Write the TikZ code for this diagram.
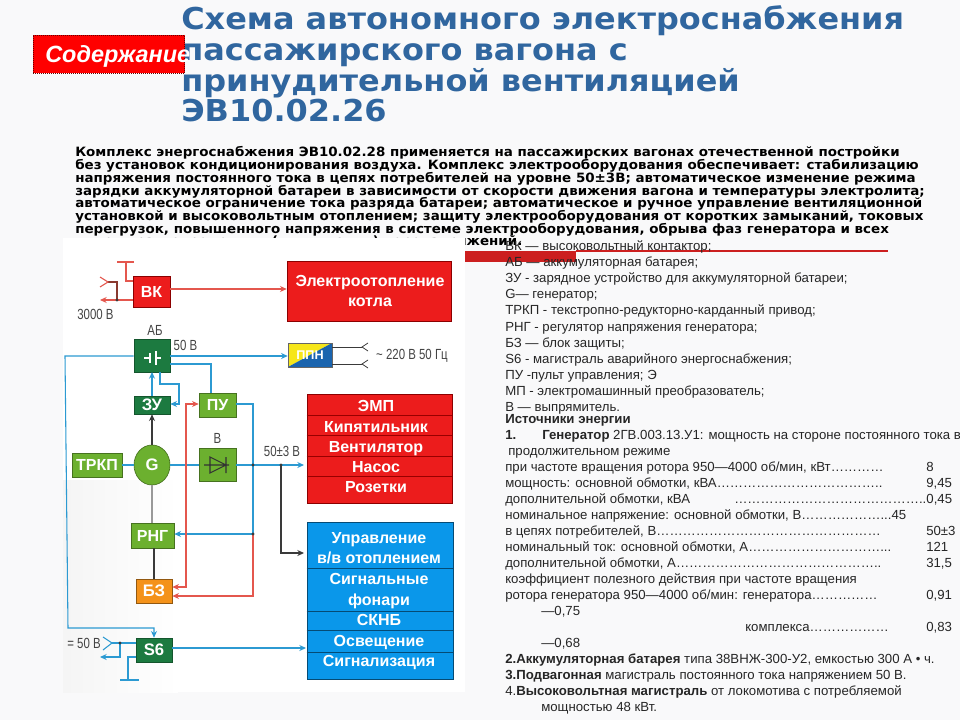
\documentclass[tikz,border=0pt]{standalone}
\usepackage{fontspec}
\usepackage{graphicx}
\setmainfont{Liberation Sans}
\newfontfamily\verdt[FakeStretch=1.06]{DejaVu Sans Bold}
\newfontfamily\verdp[FakeStretch=1.05]{DejaVu Sans Bold}
\usetikzlibrary{arrows.meta,calc,shapes.geometric}
\definecolor{pagebg}{HTML}{F9F9FA}
\definecolor{titleblue}{HTML}{30669F}
\definecolor{boxred}{HTML}{EC1C1C}
\definecolor{redline}{HTML}{CC1F1F}
\definecolor{dkgreen}{HTML}{1C7A40}
\definecolor{ltgreen}{HTML}{6CB02F}
\definecolor{boxorange}{HTML}{F4921A}
\definecolor{boxblue}{HTML}{0A97EA}
\definecolor{wireblue}{HTML}{2C9AD2}
\definecolor{wirered}{HTML}{E4574E}
\definecolor{wiredark}{HTML}{3A3A3A}
\definecolor{wirebrown}{HTML}{8A3A30}
\definecolor{ppnblue}{HTML}{1A64AE}
\definecolor{ppnyellow}{HTML}{F6E61A}
\definecolor{labgray}{HTML}{444444}
\newcommand\pxbox[7]{%
  \pgfmathsetlengthmacro\bxw{(#4-#2)*0.75pt}%
  \pgfmathsetlengthmacro\bxh{(#5-#3)*0.75pt}%
  \pgfmathsetmacro\bxx{(#2+#4)/2}%
  \pgfmathsetmacro\bxy{(#3+#5)/2}%
  \node[#6,minimum width=\bxw,minimum height=\bxh,inner sep=0pt] (#1) at (\bxx,\bxy) {#7};}
\tikzset{
  titleline/.style={anchor=base west,inner sep=0pt,text=titleblue,font=\verdt\fontsize{22.6pt}{24pt}\selectfont},
  parline/.style={anchor=base west,inner sep=0pt,text=black,font=\verdp\fontsize{9.6pt}{10pt}\selectfont},
  legline/.style={anchor=base west,inner sep=0pt,text=black!85,font=\fontsize{9.9pt}{11pt}\selectfont},
  blockred/.style={fill=boxred,draw=red!55!black,line width=.5pt,text=white,font=\bfseries\fontsize{12pt}{14pt}\selectfont},
  blockgreen/.style={fill=dkgreen,draw=dkgreen!70!black,line width=.5pt,text=white,font=\bfseries\fontsize{12.5pt}{14pt}\selectfont},
  blocklime/.style={fill=ltgreen,draw=ltgreen!65!black,line width=.5pt,text=white,font=\bfseries\fontsize{12pt}{14pt}\selectfont},
  blockorange/.style={fill=boxorange,draw=boxorange!60!black,line width=.5pt,text=white,font=\bfseries\fontsize{12.5pt}{14pt}\selectfont},
  blockblue/.style={fill=boxblue,draw=boxblue!50!black,line width=.5pt},
  blocktext/.style={text=white,inner sep=0pt,text height=8.6pt,text depth=0pt,font=\bfseries\fontsize{12pt}{14pt}\selectfont},
  sepline/.style={line width=.4pt},
  wblue/.style={draw=wireblue,line width=.8pt},
  wred/.style={draw=wirered,line width=.8pt},
  wdark/.style={draw=wiredark,line width=.8pt},
  wgray/.style={draw=black!40,line width=.8pt},
  tipb/.style={-{Stealth[length=5pt,width=4.5pt]}},
  tipbb/.style={{Stealth[length=5pt,width=4.5pt]}-{Stealth[length=5pt,width=4.5pt]}},
  dot/.style={circle,fill=wiredark,inner sep=0pt,minimum size=2.6pt},
  lab/.style={inner sep=0pt,text=labgray,font=\fontsize{11pt}{12pt}\selectfont},
}
\begin{document}
\begin{tikzpicture}[x=0.75pt,y=-0.75pt]
\useasboundingbox (0,0) rectangle (960,720);
\fill[pagebg] (0,0) rectangle (960,720);
% title
\node[titleline] (t1) at (181,30) {Схема автономного электроснабжения};
\node[titleline] (t2) at (181,61) {пассажирского вагона с};
\node[titleline] (t3) at (181,91.5) {принудительной вентиляцией};
\node[titleline] (t4) at (181,122) {ЭВ10.02.26};
% contents button
\node[fill=red,draw=red!40!black,densely dotted,line width=.5pt,minimum width=113.5pt,minimum height=28.5pt,inner sep=0pt] (cont) at (109,54) {};
\node[inner sep=0pt,text=white,anchor=west,font=\bfseries\itshape\fontsize{17.6pt}{19pt}\selectfont] (contt) at (45,56) {Содержание};
% paragraph
\node[parline] (p1) at (75,157) {Комплекс энергоснабжения ЭВ10.02.28 применяется на пассажирских вагонах отечественной постройки};
\node[parline] (p2) at (75,170) {без установок кондиционирования воздуха. Комплекс электрооборудования обеспечивает: стабилизацию};
\node[parline] (p3) at (75,182.5) {напряжения постоянного тока в цепях потребителей на уровне 50±3В; автоматическое изменение режима};
\node[parline] (p4) at (75,195.5) {зарядки аккумуляторной батареи в зависимости от скорости движения вагона и температуры электролита;};
\node[parline] (p5) at (75,208) {автоматическое ограничение тока разряда батареи; автоматическое и ручное управление вентиляционной};
\node[parline] (p6) at (75,221) {установкой и высоковольтным отоплением; защиту электрооборудования от коротких замыканий, токовых};
\node[parline] (p7) at (75,234) {перегрузок, повышенного напряжения в системе электрооборудования, обрыва фаз генератора и всех};
\node[parline] (p8) at (75,246) {видов кратковременных (импульсных) перенапряжений.};
% red rule
\fill[redline] (465,251) rectangle (576,262);
\draw[redline,line width=.9pt] (576,251) -- (888,251);
% picture ground
\fill[white] (63,238) rectangle (465,692);
\shade[left color=black!4,right color=white] (63,480) rectangle (178,692);
% blocks
\pxbox{vk}{133}{276}{170}{307}{blockred}{ВК}
\pxbox{el}{287}{261}{451}{321}{blockred}{}
\node[blocktext] (el1) at (370,281) {Электроотопление};
\node[blocktext] (el2) at (370,301) {котла};
\pxbox{ab}{134}{339}{170}{372}{blockgreen}{}
\pxbox{ppn}{288}{343}{332}{367}{draw=black!60,line width=.4pt,text=white,font=\bfseries\fontsize{9.5pt}{11pt}\selectfont,path picture={
  \fill[ppnyellow] (path picture bounding box.north west) -- (path picture bounding box.north east) -- (path picture bounding box.south west) -- cycle;
  \fill[ppnblue] (path picture bounding box.south east) -- (path picture bounding box.north east) -- (path picture bounding box.south west) -- cycle;}}{ППН}
\pxbox{zu}{134}{396}{170}{414}{blockgreen}{ЗУ}
\pxbox{pu}{199}{393}{236}{417}{blocklime}{ПУ}
\pxbox{emp}{307}{394}{452}{503}{blockred}{}
\foreach \yy in {415,435,456,476} \draw[sepline,draw=red!60!black] (emp.west |- 0,\yy) -- (emp.east |- 0,\yy);
\node[blocktext] (em1) at (376,406) {ЭМП};
\node[blocktext] (em2) at (376,427) {Кипятильник};
\node[blocktext] (em3) at (376,447) {Вентилятор};
\node[blocktext] (em4) at (376,467) {Насос};
\node[blocktext] (em5) at (376,487) {Розетки};
\pxbox{bv}{199}{448}{236}{481}{blocklime}{}
\pxbox{trkp}{72}{453}{122}{477}{blocklime}{ТРКП}
\pxbox{gen}{134}{445}{170}{485}{ellipse,fill=ltgreen,draw=ltgreen!65!black,line width=.5pt,text=white,font=\bfseries\fontsize{12.5pt}{14pt}\selectfont}{G}
\pxbox{rng}{131}{523}{174}{548}{blocklime}{РНГ}
\pxbox{bz}{136}{579}{172}{603}{blockorange}{БЗ}
\pxbox{s6}{136}{638}{172}{662}{blockgreen}{S6}
\pxbox{cons}{307}{522}{453}{679}{blockblue}{}
\foreach \yy in {568,611,630,652} \draw[sepline,draw=boxblue!50!black] (cons.west |- 0,\yy) -- (cons.east |- 0,\yy);
\node[blocktext] (c1) at (379,538) {Управление};
\node[blocktext] (c2) at (379,558) {в/в отоплением};
\node[blocktext] (c3) at (379,579) {Сигнальные};
\node[blocktext] (c4) at (379,600) {фонари};
\node[blocktext] (c5) at (379,620) {СКНБ};
\node[blocktext] (c6) at (379,641) {Освещение};
\node[blocktext] (c7) at (379,661) {Сигнализация};
% free wire points
\coordinate (vkT) at (126,262);
\coordinate (vkTl) at (117,262);
\coordinate (vkTr) at (134,262);
\coordinate (vkB) at (126,281);
\coordinate (vkIn) at (117,300);
\coordinate (vkOut) at (100,300);
\coordinate (vkFork) at (108,282);
\coordinate (abL) at (65,356);
\coordinate (s6L) at (68,628);
\coordinate (s6Lr) at (154,628);
\coordinate (abPu) at (211,364);
\coordinate (abLoopA) at (160,384);
\coordinate (abLoopB) at (179,384);
\coordinate (abLoopC) at (179,404);
\coordinate (j1) at (253,465);
\coordinate (j2) at (253,534);
\coordinate (puR) at (253,404);
\coordinate (redD) at (253,596);
\coordinate (red1) at (186,404);
\coordinate (red2) at (186,587);
\coordinate (j3) at (281,465);
\coordinate (dk) at (281,553);
\coordinate (s6dot) at (120,643);
\coordinate (s6dn) at (120,657);
\coordinate (s6out) at (100,657);
\coordinate (s6gnd) at (128,657);
\coordinate (s6gnd2) at (128,680);
\coordinate (s6gL) at (120,680);
\coordinate (s6gR) at (139,680);
\coordinate (fk1) at (112,643);
\coordinate (ppnA) at (362,347);
\coordinate (ppnB) at (362,364);
% wires: high voltage
\draw[wred,tipb] (vk.east |- 0,289) -- (el.west |- 0,289);
\draw[wred] (vkTl) -- (vkTr);
\draw[wred] (vkT) -- (vkB) -- (vk.west |- vkB);
\draw[wred,tipb] (vk.west |- vkIn) -- (vkOut);
\draw[draw=wirebrown,line width=.8pt] (vkIn) -- (117,282) -- (vkFork);
\draw[wred] (100,277) -- (vkFork) -- (100,287);
\node[dot] (d0) at (vkIn) {};
% wires: blue
\draw[wblue,tipb] (ab.west |- abL) -- (abL) -- (s6L) -- (s6Lr) -- (s6.north -| s6Lr);
\draw[wblue,tipb] (ab.east |- abL) -- (ppn.west |- abL);
\draw[wblue] (ab.east |- abPu) -- (abPu) -- (pu.north -| abPu);
\draw[wblue,tipb] (152,396) -- (152,372);
\draw[wblue,tipb] (ab.south -| abLoopA) -- (abLoopA) -- (abLoopB) -- (abLoopC) -- (zu.east |- abLoopC);
\draw[wdark,tipb] (gen.north) -- (zu.south -| gen.north);
\draw[wblue] (trkp.east |- gen.west) -- (gen.west);
\draw[wblue] (gen.east) -- (bv.west |- gen.east);
\draw[wblue,tipb] (bv.east |- j1) -- (304,465);
\draw[wblue] (pu.east |- puR) -- (puR) -- (j1) -- (j2);
\draw[wblue,tipb] (j2) -- (rng.east |- j2);
\draw[wred,tipb] (j2) -- (redD) -- (bz.east |- redD);
\draw[wred,tipbb] (pu.west |- red1) -- (red1) -- (red2) -- (bz.east |- red2);
\draw[wdark,tipb] (j3) -- (dk) -- (304,553);
\draw[wgray] (gen.south) -- (rng.north -| gen.south);
\draw[wdark] (rng.south -| 154,0) -- (bz.north -| 154,0);
\draw[wblue,tipb] (s6.east |- 0,648) -- (306,648);
\draw[wblue] (s6.west |- fk1) -- (fk1);
\draw[wblue] (103,637) -- (fk1) -- (103,650);
\draw[wblue,tipb] (s6dot) -- (s6dn) -- (s6out);
\draw[wblue] (s6.west |- s6gnd) -- (s6gnd) -- (s6gnd2);
\draw[wblue] (s6gL) -- (s6gR);
\node[dot] (d1) at (j1) {};
\node[dot] (d2) at (j2) {};
\node[dot] (d3) at (j3) {};
\node[dot] (d4) at (s6dot) {};
% ppn output
\draw[wiredark,line width=.6pt] (ppn.east |- ppnA) -- (ppnA);
\draw[wiredark,line width=.6pt] (ppn.east |- ppnB) -- (ppnB);
\draw[wiredark,line width=.6pt] (368,343) -- (ppnA) -- (368,351);
\draw[wiredark,line width=.6pt] (368,360) -- (ppnB) -- (368,368);
% symbols
\draw[white,line width=1.1pt] (144,358) -- (150,358) (150,353) -- (150,363) (156,351) -- (156,365) (156,358) -- (161,358);
\draw[black!80,line width=.8pt] (204,465) -- (229,465) (226,457) -- (226,473) (210,457) -- (226,465) -- (210,473) -- cycle;
% labels
\node[lab] (l3k) at (95.5,314) {\scalebox{.78}[1]{3000 В}};
\node[lab] (lab) at (155,330) {\scalebox{.78}[1]{АБ}};
\node[lab] (l50) at (185.5,345) {\scalebox{.78}[1]{50 В}};
\node[lab] (l220) at (412,356) {\scalebox{.78}[1]{\textasciitilde{} 220 В 50 Гц}};
\node[lab] (lb) at (217.5,438) {\scalebox{.78}[1]{В}};
\node[lab] (l503) at (282,451) {\scalebox{.78}[1]{50±3 В}};
\node[lab] (l5v) at (84,643) {\scalebox{.78}[1]{= 50 В}};
% legend
\node[legline] (g1) at (505,251) {ВК — высоковольтный контактор;};
\node[legline] (g2) at (505,267) {АБ — аккумуляторная батарея;};
\node[legline] (g3) at (505,283) {ЗУ - зарядное устройство для аккумуляторной батареи;};
\node[legline] (g4) at (505,299) {G— генератор;};
\node[legline] (g5) at (505,315) {ТРКП - текстропно-редукторно-карданный привод;};
\node[legline] (g6) at (505,331) {РНГ -  регулятор напряжения генератора;};
\node[legline] (g7) at (505,347) {БЗ — блок защиты;};
\node[legline] (g8) at (505,363) {S6 -  магистраль аварийного энергоснабжения;};
\node[legline] (g9) at (505,379) {ПУ -пульт управления; Э};
\node[legline] (g10) at (505,395) {МП - электромашинный преобразователь;};
\node[legline] (g11) at (505,411) {В — выпрямитель.};
\node[legline] (g12) at (505,423) {\bfseries Источники энергии};
\node[legline] (g13) at (505,439) {\textbf{1.}};
\node[legline] (g13b) at (542,439) {\textbf{Генератор} 2ГВ.003.13.У1: мощность на стороне постоянного тока в};
\node[legline] (g14) at (508,455) {продолжительном режиме};
\node[legline] (g15) at (505,471) {при частоте вращения ротора 950—4000 об/мин, кВт…………};
\node[legline] (g15n) at (926,471) {8};
\node[legline] (g16) at (505,487) {мощность: основной обмотки, кВА………………………………..};
\node[legline] (g16n) at (926,487) {9,45};
\node[legline] (g17) at (505,503) {дополнительной обмотки, кВА};
\node[legline] (g17n) at (734,503) {……………………………………..0,45};
\node[legline] (g18) at (505,519) {номинальное напряжение: основной обмотки, В………………...45};
\node[legline] (g19) at (505,535) {в цепях потребителей, В……………………………………………};
\node[legline] (g19n) at (926,535) {50±3};
\node[legline] (g20) at (505,551) {номинальный ток: основной обмотки, А…………………………...};
\node[legline] (g20n) at (926,551) {121};
\node[legline] (g21) at (505,567) {дополнительной обмотки, А………………………………………..};
\node[legline] (g21n) at (926,567) {31,5};
\node[legline] (g22) at (505,583) {коэффициент полезного действия при частоте вращения};
\node[legline] (g23) at (505,599) {ротора генератора 950—4000 об/мин: генератора……………};
\node[legline] (g23n) at (926,599) {0,91};
\node[legline] (g24) at (541,615) {—0,75};
\node[legline] (g25) at (745,631) {комплекса………………};
\node[legline] (g25n) at (926,631) {0,83};
\node[legline] (g26) at (541,647) {—0,68};
\node[legline] (g27) at (505,663) {\textbf{2.Аккумуляторная батарея} типа 38ВНЖ-300-У2, емкостью 300 А • ч.};
\node[legline] (g28) at (505,679) {\textbf{3.Подвагонная} магистраль постоянного тока напряжением 50 В.};
\node[legline] (g29) at (505,695) {4.\textbf{Высоковольтная магистраль} от локомотива с потребляемой};
\node[legline] (g30) at (541,711) {мощностью 48 кВт.};
\end{tikzpicture}
\end{document}
